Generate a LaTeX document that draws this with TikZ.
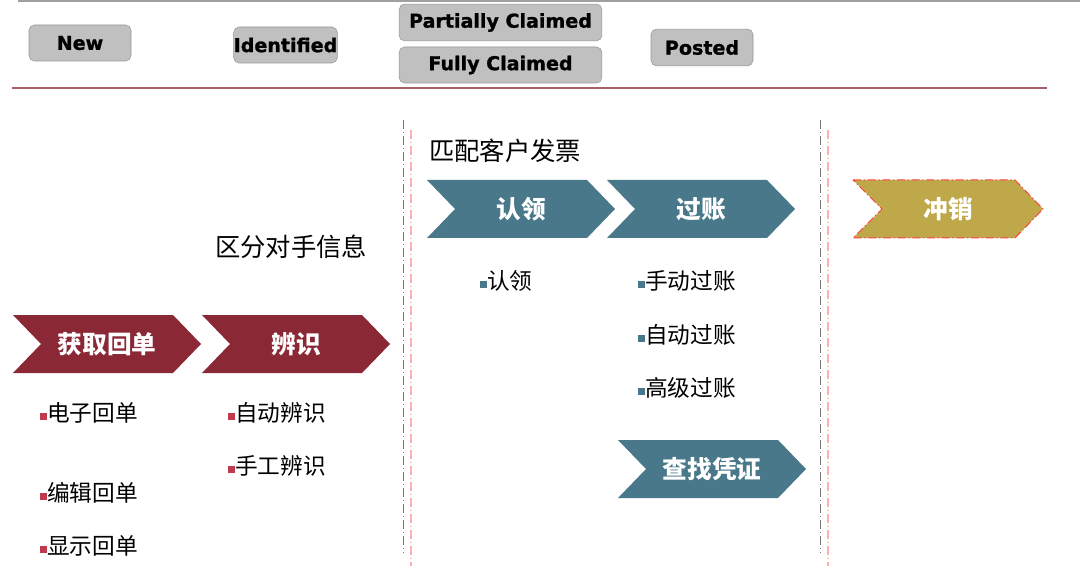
\documentclass[tikz,border=0pt]{standalone}
\usepackage{fontspec}
\newfontfamily\cjk{Noto Sans CJK SC}
\newfontfamily\statefont{DejaVu Sans}[BoldFeatures={FakeBold=1.2}]

\definecolor{boxfill}{RGB}{192,192,192}
\definecolor{boxline}{RGB}{150,150,150}
\definecolor{topline}{RGB}{160,160,160}
\definecolor{redline}{RGB}{165,95,105}
\definecolor{redstep}{RGB}{139,40,53}
\definecolor{bluestep}{RGB}{72,120,138}
\definecolor{goldstep}{RGB}{191,168,74}
\definecolor{redbul}{RGB}{192,57,77}
\definecolor{sepgrey}{RGB}{120,120,120}
\definecolor{seppink}{RGB}{255,175,175}

\newcommand{\sqbul}[1]{{\color{#1}\rule[1.5pt]{5.2pt}{5.2pt}}}

\tikzset{
	statebox/.style={draw=boxline, fill=boxfill, rounded corners=4pt, inner sep=0pt,
		font=\statefont\bfseries\fontsize{14.3}{16}\selectfont},
	steptext/.style={text=white, inner sep=0pt, font=\cjk\bfseries\fontsize{18.5}{20}\selectfont},
	itemtext/.style={anchor=west, inner sep=0pt, font=\cjk\fontsize{17}{18}\selectfont},
	headtext/.style={anchor=west, inner sep=0pt, font=\cjk\fontsize{19}{20}\selectfont},
	greysep/.style={draw=sepgrey, line width=0.75pt, dash pattern=on 7pt off 2pt on 1pt off 2pt},
	pinksep/.style={draw=seppink, line width=1pt, dash pattern=on 7pt off 2pt on 1pt off 2pt}
}

\begin{document}
\begin{tikzpicture}[x=0.75pt, y=-0.75pt]

	\useasboundingbox (0,0) rectangle (1080,573);

	\draw[topline, line width=2.2pt] (18,1) -- (1080,1);
	\draw[redline, line width=1.1pt] (12,88) -- (1047,88);

	% states
	\node[statebox, minimum width=76.5pt, minimum height=27pt] (new) at (80,43) {New};
	\node[statebox, minimum width=77pt, minimum height=27pt] (identified) at (285.5,45) {Identified};
	\node[statebox, minimum width=152pt, minimum height=27.5pt] (partial) at (500.5,22.5) {Partially Claimed};
	\node[statebox, minimum width=152pt, minimum height=27pt] (full) at (500.5,65) {Fully Claimed};
	\node[statebox, minimum width=76.5pt, minimum height=27.5pt] (posted) at (702,47.5) {Posted};

	% separators
	\draw[greysep] (403,120) -- (403,553);
	\draw[pinksep] (411,130) -- (411,566);
	\draw[greysep] (820,120) -- (820,553);
	\draw[pinksep] (828,130) -- (828,566);

	\node[headtext] (match) at (429,151) {匹配客户发票};
	\node[headtext] (party) at (215,247) {区分对手信息};

	\foreach \n/\x/\y/\c/\t in {
	get/13/344/redstep/获取回单,
	ident/202/344/redstep/辨识,
	claim/427/209/bluestep/认领,
	post/607/209/bluestep/过账,
	find/618/469/bluestep/查找凭证}
	{
		\fill[\c] (\x,\y-29) -- ++(160,0) -- ++(28,29) -- ++(-28,29) -- ++(-160,0) -- ++(28,-29) -- cycle;
		\node[steptext] (\n) at (\x+94,\y) {\t};
	};

	\filldraw[fill=goldstep, draw=red!75, line width=0.75pt, dash pattern=on 6pt off 2pt on 1pt off 2pt]
		(853,180) -- ++(162,0) -- ++(28,29) -- ++(-28,29) -- ++(-162,0) -- ++(29,-29) -- cycle;
	\node[steptext] (writeoff) at (948,209) {冲销};

	% items
	\foreach \n/\x/\y/\c/\t in {
	e1/40/413/redbul/电子回单,
	e2/40/493/redbul/编辑回单,
	e3/40/546/redbul/显示回单,
	i1/228/413/redbul/自动辨识,
	i2/228/466/redbul/手工辨识,
	c1/480/281/bluestep/认领,
	p1/638/281/bluestep/手动过账,
	p2/638/335/bluestep/自动过账,
	p3/638/388/bluestep/高级过账}
	{
		\node[itemtext] (\n) at (\x,\y) {\sqbul{\c}\t};
	};

\end{tikzpicture}
\end{document}
